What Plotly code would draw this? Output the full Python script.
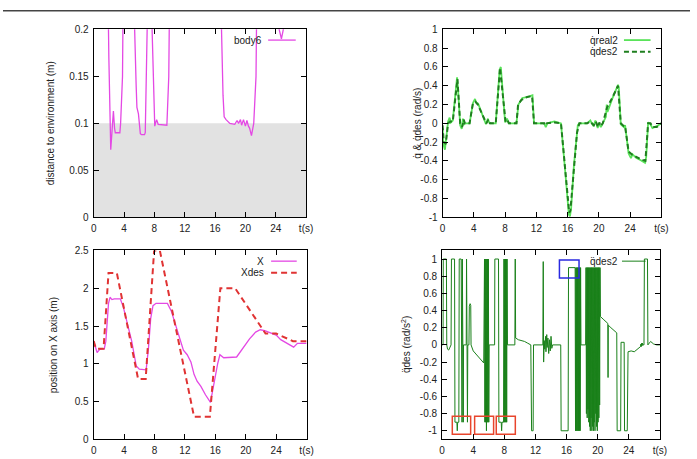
import plotly.graph_objects as go

W, H = 697, 459

# ---------------- data ----------------
X_TICKS = [0, 4, 8, 12, 16, 20, 24, 28]
X_TICKTEXT = ["0", "4", "8", "12", "16", "20", "24", "t(s)"]

# top-left: distance of body6 to environment (m)
body_t = [0.0, 1.9, 1.95, 1.96, 1.98, 2.0, 2.25, 2.45, 2.6, 2.75, 2.85, 3.45, 3.55, 3.8, 4.0, 4.05,
          5.35, 5.4, 5.6, 5.7, 5.9, 6.15, 6.3, 6.7, 6.8, 7.05, 7.1, 7.65, 7.7, 8.05, 8.15, 8.3, 8.5,
          9.65, 9.9, 10.15, 10.2, 16.8, 16.85, 17.05, 17.2, 17.45, 17.95, 18.6, 18.9, 19.1, 19.35,
          19.5, 19.75, 20.0, 20.2, 20.4, 20.55, 20.8, 21.1, 21.4, 21.65, 21.7, 24.4, 24.45, 24.75,
          25.0, 25.05, 28.0]
body_v = [0.4, 0.4, 0.2, 0.19, 0.186, 0.17, 0.072, 0.1, 0.113, 0.095, 0.09, 0.09, 0.1, 0.15, 0.2, 0.4,
          0.4, 0.2, 0.14, 0.117, 0.11, 0.089, 0.088, 0.088, 0.09, 0.2, 0.4, 0.4, 0.2, 0.097, 0.1, 0.104, 0.099,
          0.098, 0.15, 0.2, 0.4, 0.4, 0.2, 0.13, 0.107, 0.104, 0.1, 0.099, 0.103, 0.1, 0.104,
          0.098, 0.104, 0.097, 0.103, 0.097, 0.095, 0.087, 0.1, 0.15, 0.2, 0.4, 0.4, 0.2, 0.19,
          0.2, 0.4, 0.4]
SAFETY_DISTANCE = 0.1
DIST_TICKS = [0, 0.05, 0.1, 0.15, 0.2]
DIST_TICKTEXT = ["0", "0.05", "0.1", "0.15", "0.2"]

# top-right: joint velocity real / desired (rad/s)
qreal_t = [0.0, 0.1, 0.3, 0.45, 0.7, 0.9, 1.05, 1.3, 1.85, 1.95, 2.25, 2.45, 2.6, 2.75, 2.9, 3.45,
           3.9, 4.15, 4.3, 4.55, 5.1, 5.55, 5.8, 5.9, 6.1, 6.8, 7.3, 7.45, 8.0, 8.25, 8.45, 9.45,
           9.7, 10.0, 10.2, 10.8, 11.5, 11.7, 13.0, 13.2, 13.4, 14.3, 15.15, 15.7, 16.15, 16.3,
           16.45, 16.8, 17.2, 17.3, 17.5, 18.5, 18.9, 19.3, 19.55, 19.85, 20.0, 20.25, 20.55, 20.9,
           21.0, 21.1, 21.7, 22.45, 22.55, 22.8, 23.2, 23.35, 23.8, 24.1, 24.3, 24.8, 25.3, 25.9,
           26.05, 26.3, 26.6, 26.85, 27.4, 28.0]
qreal_v = [-0.05, -0.22, -0.28, -0.15, 0.02, 0.06, 0.01, 0.03, 0.49, 0.4, -0.02, -0.06, 0.05, -0.01, 0.0, 0.0,
           0.22, 0.26, 0.22, 0.21, 0.1, -0.01, 0.05, 0.02, 0.0, 0.0, 0.57, 0.6, 0.01, 0.05, 0.0, 0.0,
           0.2, 0.24, 0.27, 0.28, 0.3, 0.0, 0.0, -0.04, 0.0, 0.02, 0.0, -0.52, -0.97, -0.99,
           -0.9, -0.45, -0.08, -0.02, 0.0, 0.0, 0.03, -0.03, 0.03, -0.05, 0.0, -0.04, 0.01, 0.07,
           0.2, 0.12, 0.26, 0.41, 0.38, -0.01, -0.04, -0.02, -0.32, -0.37, -0.33, -0.37, -0.39, -0.42,
           -0.36, 0.01, -0.01, -0.05, -0.03, 0.0]
qdes_t = [0.0, 0.15, 0.4, 0.7, 1.0, 1.3, 1.9, 2.25, 2.5, 2.7, 2.85, 3.45, 3.87, 4.2, 4.5, 5.1, 5.6,
          5.85, 6.05, 6.8, 7.35, 8.05, 8.28, 8.5, 9.45, 9.66, 10.1, 10.8, 11.45, 11.7, 13.0, 13.1,
          13.3, 14.3, 15.15, 15.7, 16.2, 16.35, 16.75, 17.2, 17.5, 18.5, 18.85, 19.35, 19.6, 19.9,
          20.05, 20.2, 20.5, 21.05, 21.7, 22.45, 22.8, 23.2, 23.35, 23.8, 24.2, 24.8, 25.3, 25.95,
          26.3, 26.6, 26.9, 27.4, 28.0]
qdes_v = [-0.02, -0.2, -0.22, 0.0, 0.02, 0.02, 0.47, 0.0, -0.04, 0.04, 0.0, 0.0, 0.21, 0.23, 0.2, 0.1, 0.0,
          0.04, 0.0, 0.0, 0.59, 0.02, 0.04, 0.0, 0.0, 0.2, 0.25, 0.28, 0.29, 0.0, 0.0, -0.02,
          0.0, 0.01, 0.0, -0.5, -0.95, -0.93, -0.5, -0.1, 0.0, 0.0, 0.02, -0.02, 0.02, -0.04,
          0.01, -0.03, 0.0, 0.17, 0.27, 0.4, 0.0, -0.03, -0.03, -0.3, -0.33, -0.36, -0.38, -0.4,
          0.0, 0.0, -0.04, -0.04, 0.0]
VEL_TICKS = [-1, -0.8, -0.6, -0.4, -0.2, 0, 0.2, 0.4, 0.6, 0.8, 1]
VEL_TICKTEXT = ["-1", "-0.8", "-0.6", "-0.4", "-0.2", "0", "0.2", "0.4", "0.6", "0.8", "1"]

# bottom-left: position on X axis (m)
x_t = [0.0, 0.2, 0.45, 0.8, 1.4, 1.6, 1.95, 2.15, 2.4, 2.7, 3.5, 3.9, 4.4, 5.0, 5.6, 6.0, 6.9, 7.2,
       7.5, 7.8, 8.2, 9.7, 10.2, 10.8, 11.4, 11.8, 12.3, 12.8, 13.2, 13.6, 14.1, 14.7, 15.36, 15.8,
       16.3, 16.6, 16.9, 17.1, 18.8, 19.7, 20.5, 21.3, 21.9, 22.5, 23.2, 24.0, 24.6, 25.3, 26.0,
       26.3, 26.8, 28.0]
x_v = [1.3, 1.22, 1.15, 1.19, 1.2, 1.3, 1.8, 1.88, 1.85, 1.86, 1.86, 1.75, 1.55, 1.3, 0.97, 0.93, 0.92, 1.2,
       1.6, 1.77, 1.8, 1.8, 1.7, 1.5, 1.28, 1.18, 1.12, 1.02, 0.86, 0.77, 0.7, 0.59, 0.49, 0.75,
       1.0, 1.12, 1.1, 1.08, 1.09, 1.22, 1.33, 1.42, 1.45, 1.44, 1.41, 1.38, 1.32, 1.28, 1.23,
       1.22, 1.27, 1.27]
xdes_t = [0.0, 0.3, 1.3, 1.95, 3.05, 5.84, 6.84, 7.95, 8.7, 13.2, 15.28, 16.66, 18.6, 22.6, 24.0, 26.2, 28.0]
xdes_v = [1.3, 1.2, 1.2, 2.2, 2.2, 0.8, 0.8, 2.5, 2.5, 0.3, 0.3, 2.0, 2.0, 1.4, 1.4, 1.3, 1.3]
POS_TICKS = [0, 0.5, 1, 1.5, 2, 2.5]
POS_TICKTEXT = ["0", "0.5", "1", "1.5", "2", "2.5"]

# bottom-right: desired joint acceleration (t, value) samples
QDDES2 = [
    (0.00, 0.0), (0.12, 0.0), (0.15, 1.0), (0.55, 1.0), (0.60, 0.0), (0.70, -0.05), (0.85, -0.06),
    (1.00, -0.03), (1.15, 0.0), (1.20, 1.0), (1.60, 1.0), (1.65, -0.9), (1.90, -0.9), (1.95, -1.0),
    (2.00, -0.9), (2.15, -0.9), (2.20, 1.0), (2.45, 1.0), (2.48, -0.9), (2.52, 1.0), (2.56, -0.9),
    (2.60, 1.0), (2.64, -0.9), (2.68, 1.0), (2.72, -0.9), (2.75, 0.0), (3.10, 0.0), (3.14, 1.0),
    (3.18, -0.9), (3.22, 1.0), (3.26, -0.9), (3.30, 0.0), (3.45, 0.0), (3.50, 0.45), (3.60, 0.48),
    (3.68, 0.46), (3.72, 0.0), (4.00, -0.07), (4.50, -0.12), (5.00, -0.17), (5.35, -0.21),
    (5.45, 1.0), (5.50, -0.9), (5.55, 1.0), (5.60, -0.9), (5.65, 1.0), (5.70, -1.0), (5.75, 1.0),
    (5.80, -0.9), (5.85, 1.0), (5.90, -0.9), (5.95, 1.0), (6.00, -0.9), (6.05, 0.0), (6.75, 0.0),
    (6.78, 1.0), (7.25, 1.0), (7.30, -0.9), (7.60, -0.9), (7.65, -1.0), (7.70, -0.9), (7.90, -0.9),
    (7.95, 1.0), (8.00, -0.9), (8.05, 1.0), (8.10, -0.9), (8.15, 1.0), (8.20, -0.9), (8.25, 1.0),
    (8.30, -0.9), (8.35, 1.0), (8.40, 0.0), (9.35, 0.0), (9.40, 1.0), (9.45, 0.08), (9.80, 0.06),
    (10.20, 0.05), (10.60, 0.04), (11.00, 0.02), (11.40, 0.0), (11.50, -1.0), (11.70, -1.0),
    (11.75, 0.0), (12.95, 0.0), (13.00, 0.97), (13.05, -0.2), (13.12, 0.05), (13.20, -0.05),
    (13.30, 0.10), (13.35, -0.08), (13.45, 0.12), (13.50, -0.03), (13.60, 0.08), (13.70, -0.10),
    (13.80, 0.06), (13.90, -0.07), (14.00, 0.10), (14.10, -0.04), (14.20, 0.0), (15.25, 0.0),
    (15.30, -1.0), (16.20, -1.0), (16.25, 0.9), (17.10, 0.9), (17.15, -1.0), (17.20, 0.9),
    (17.25, -1.0), (17.30, 0.9), (17.35, -1.0), (17.40, 0.9), (17.45, -1.0), (17.50, 0.9),
    (17.55, -1.0), (17.60, 0.9), (17.65, -1.0), (17.70, 0.9), (17.75, -1.0), (17.80, 0.9),
    (17.85, 0.0), (18.45, 0.0), (18.50, 0.9), (18.55, -0.8), (18.60, 0.9), (18.65, -0.85),
    (18.70, 0.9), (18.75, -0.75), (18.80, 0.9), (18.85, -0.9), (18.90, 0.9), (18.95, -0.95),
    (19.00, 0.9), (19.05, -1.0), (19.10, 0.9), (19.15, -0.85), (19.20, 0.9), (19.25, -1.0),
    (19.30, 0.9), (19.35, -0.95), (19.40, 0.9), (19.45, -1.0), (19.50, 0.9), (19.55, -0.9),
    (19.60, 0.9), (19.65, -1.0), (19.70, 0.9), (19.75, -0.8), (19.80, 0.9), (19.85, -0.95),
    (19.90, 0.9), (19.95, -1.0), (20.00, 0.9), (20.05, -0.9), (20.10, 0.9), (20.15, -0.85),
    (20.20, 0.9), (20.25, -0.7), (20.30, 0.9), (20.35, 0.33), (20.70, 0.30), (21.00, 0.27),
    (21.30, 0.25), (21.33, -0.38), (21.36, 0.23), (21.70, 0.20), (22.10, 0.17), (22.45, 0.14),
    (22.50, -1.0), (22.95, -1.0), (23.00, 0.03), (23.40, 0.03), (23.45, -1.0), (23.80, -1.0),
    (23.90, -0.08), (24.30, -0.07), (24.70, -0.08), (25.00, -0.06), (25.30, -0.04), (25.50, -0.02),
    (25.55, 0.01), (25.60, -0.02), (25.65, 0.02), (25.70, -0.01), (25.75, 0.02), (25.80, 0.0),
    (25.95, 0.0), (26.00, 1.0), (26.40, 1.0), (26.45, 0.0), (26.80, 0.04), (27.20, 0.01),
    (27.60, 0.0), (28.00, 0.0),
]
qdd_t = [p[0] for p in QDDES2]
qdd_v = [p[1] for p in QDDES2]
ACC_TICKS = VEL_TICKS
ACC_TICKTEXT = VEL_TICKTEXT
# highlighted windows (t0, t1, v0, v1)
RED_BOXES = [(1.31, 3.67, -1.04, -0.83), (4.18, 6.62, -1.04, -0.83), (6.96, 9.41, -1.04, -0.83)]
BLUE_BOXES = [(15.08, 17.6, 0.78, 0.99)]

# ---------------- style ----------------
FONT = "Liberation Sans, Arial, sans-serif"
MAGENTA = "#e448e4"
RED = "#e03333"
LIGHT_GREEN = "#5ae35a"
DARK_GREEN = "#1f7f1f"
ACC_GREEN = "#1a801a"
TXT = "#222222"


def px(x):
    return x / W


def py(y):
    return 1 - y / H


fig = go.Figure()
fig.add_trace(go.Scatter(x=body_t, y=body_v, mode="lines", line=dict(color=MAGENTA, width=1.3),
                         xaxis="x", yaxis="y", showlegend=False))
fig.add_trace(go.Scatter(x=qreal_t, y=qreal_v, mode="lines", line=dict(color=LIGHT_GREEN, width=1.8),
                         xaxis="x2", yaxis="y2", showlegend=False))
fig.add_trace(go.Scatter(x=qdes_t, y=qdes_v, mode="lines",
                         line=dict(color=DARK_GREEN, width=2, dash="5px,3px"),
                         xaxis="x2", yaxis="y2", showlegend=False))
fig.add_trace(go.Scatter(x=x_t, y=x_v, mode="lines", line=dict(color=MAGENTA, width=1.3),
                         xaxis="x3", yaxis="y3", showlegend=False))
fig.add_trace(go.Scatter(x=xdes_t, y=xdes_v, mode="lines",
                         line=dict(color=RED, width=2, dash="6px,4px"),
                         xaxis="x3", yaxis="y3", showlegend=False))
fig.add_trace(go.Scatter(x=qdd_t, y=qdd_v, mode="lines", line=dict(color=ACC_GREEN, width=1),
                         xaxis="x4", yaxis="y4", showlegend=False))


def axis(domain, rng, tv, tt, anchor, standoff):
    return dict(domain=domain, range=rng, tickmode="array", tickvals=tv, ticktext=tt,
                ticks="inside", ticklen=5, tickwidth=1, tickcolor="black",
                showline=True, linecolor="black", linewidth=1, mirror="allticks",
                showgrid=False, zeroline=False, anchor=anchor, fixedrange=True,
                ticklabelstandoff=standoff,
                tickfont=dict(family=FONT, size=10, color=TXT))


TOP = [py(217), py(24)]
BOT = [py(445), py(251)]
layout = dict(
    width=W, height=H, margin=dict(l=0, r=0, t=0, b=0),
    paper_bgcolor="white", plot_bgcolor="white",
    xaxis=axis([px(92), px(307.5)], [0, 28], X_TICKS, X_TICKTEXT, "y", 2),
    yaxis=axis(TOP, [0, 0.2], DIST_TICKS, DIST_TICKTEXT, "x", 2),
    xaxis2=axis([px(446), px(668)], [0, 28], X_TICKS, X_TICKTEXT, "y2", 2),
    yaxis2=axis(TOP, [-1, 1], VEL_TICKS, VEL_TICKTEXT, "x2", 2),
    xaxis3=axis([px(92), px(308)], [0, 28], X_TICKS, X_TICKTEXT, "y3", 2),
    yaxis3=axis(BOT, [0, 2.5], POS_TICKS, POS_TICKTEXT, "x3", 2),
    xaxis4=axis([px(445.5), px(666.5)], [0, 28], X_TICKS, X_TICKTEXT, "y4", 2),
    yaxis4=axis(BOT, [-1.1, 1.1], ACC_TICKS, ACC_TICKTEXT, "x4", 2),
)
fig.update_layout(**layout)

shapes = []
# separator rule at the top of the page
shapes.append(dict(type="line", xref="paper", yref="paper", x0=0, x1=1, y0=py(5), y1=py(5),
                   line=dict(color="#444444", width=1.5)))
# shaded unsafe zone
shapes.append(dict(type="rect", xref="x", yref="y", x0=0, x1=28, y0=0, y1=SAFETY_DISTANCE,
                   fillcolor="#e2e2e2", line=dict(width=0), layer="below"))
for (a, b, c, d) in RED_BOXES:
    shapes.append(dict(type="rect", xref="x4", yref="y4", x0=a, x1=b, y0=c, y1=d,
                       line=dict(color="#e8452c", width=1.5)))
for (a, b, c, d) in BLUE_BOXES:
    shapes.append(dict(type="rect", xref="x4", yref="y4", x0=a, x1=b, y0=c, y1=d,
                       line=dict(color="#2a2ae0", width=1.5)))

annotations = []


def legend_entry(text, x_text, y, x0, x1, color, width, dash="solid"):
    annotations.append(dict(text=text, xref="paper", yref="paper", x=px(x_text), y=py(y),
                            xanchor="right", yanchor="middle", showarrow=False,
                            font=dict(family=FONT, size=10, color=TXT)))
    shapes.append(dict(type="line", xref="paper", yref="paper", x0=px(x0), x1=px(x1),
                       y0=py(y), y1=py(y), line=dict(color=color, width=width, dash=dash)))


legend_entry("body6", 265, 35, 269, 297, MAGENTA, 1.3)
legend_entry("q\u0307real2", 626, 35, 630, 657, LIGHT_GREEN, 1.8)
legend_entry("q\u0307des2", 626, 47, 630, 657, DARK_GREEN, 2, "5px,3px")
legend_entry("X", 267, 262, 272, 298, MAGENTA, 1.3)
legend_entry("Xdes", 267, 274, 272, 298, RED, 2, "6px,4px")
legend_entry("q\u0308des2", 626, 262, 628, 652, ACC_GREEN, 1)


def ytitle(text, x, y):
    annotations.append(dict(text=text, xref="paper", yref="paper", x=px(x), y=py(y),
                            xanchor="center", yanchor="middle", textangle=-90, showarrow=False,
                            font=dict(family=FONT, size=10, color=TXT)))


ytitle("distance to environment (m)", 49, 120)
ytitle("q\u0307 &amp; q\u0307des (rad/s)", 421, 120)
ytitle("position on X axis (m)", 52, 348)
ytitle("q\u0308des (rad/s<sup>2</sup>)", 409, 348)

fig.update_layout(shapes=shapes, annotations=annotations)
fig.write_html("out.html")
